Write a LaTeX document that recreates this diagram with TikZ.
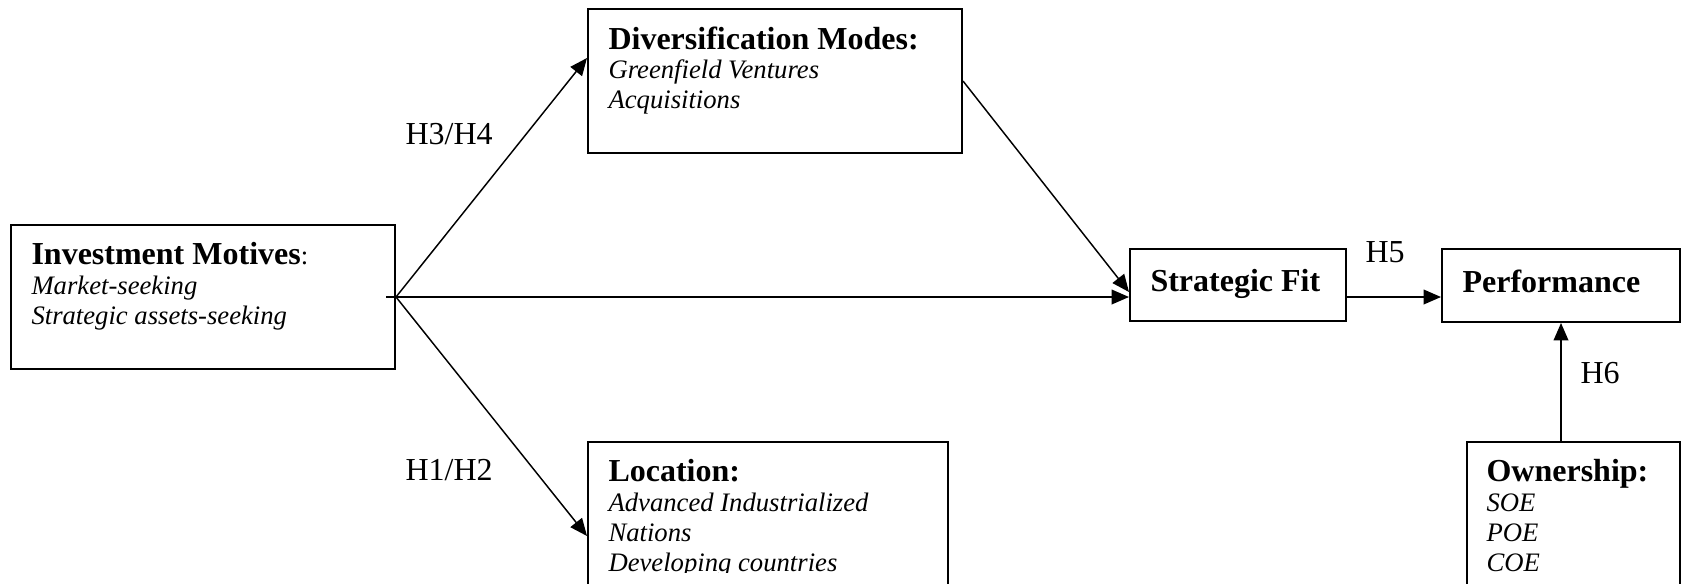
\documentclass[tikz,border=0pt]{standalone}
\usepackage{fontspec}
\setmainfont{Liberation Serif}
\usetikzlibrary{arrows.meta,calc,positioning}
\def\px{0.375pt}
\tikzset{
    box/.style={draw, line width=0.75pt, inner sep=0pt, anchor=north west},
    boxtext/.style={anchor=north west, inner sep=0pt, align=left,
        font=\fontsize{10}{11.2}\selectfont},
    link/.style={line width=0.55pt, -{Triangle[length=6.5pt,width=5.5pt]}},
    hyp/.style={anchor=base west, inner sep=0pt, font=\fontsize{12}{14}\selectfont}
}
\newcommand{\ttl}[1]{{\fontsize{12}{11.2}\selectfont\bfseries #1}}

\begin{document}
\begin{tikzpicture}[x=\px, y=-\px]
    \useasboundingbox (0,0) rectangle (1681,583);
    \clip (0,0) rectangle (1681,583);

    % Boxes.
    \node[box, minimum width=384*\px, minimum height=144*\px] (inv) at (10,224) {};
    \node[box, minimum width=374*\px, minimum height=144*\px] (div) at (587,8) {};
    \node[box, minimum width=360*\px, minimum height=180*\px] (loc) at (587,441) {};
    \node[box, minimum width=216*\px, minimum height=72*\px] (fit) at (1129,248) {};
    \node[box, minimum width=238*\px, minimum height=73*\px] (perf) at (1441,248) {};
    \node[box, minimum width=213*\px, minimum height=180*\px] (own) at (1466,441) {};

    % Box texts.
    \node[boxtext] (invtxt) at ($(inv.north west)+(21,18)$)
        {\ttl{Investment Motives}:\\ \itshape Market-seeking\\ \itshape Strategic assets-seeking};
    \node[boxtext] (divtxt) at ($(div.north west)+(21,18)$)
        {\ttl{Diversification Modes:}\\ \itshape Greenfield Ventures\\ \itshape Acquisitions};
    \begin{scope}
        \clip (0,0) rectangle (1681,572);
        \node[boxtext] (loctxt) at ($(loc.north west)+(21,18)$)
            {\ttl{Location:}\\ \itshape Advanced Industrialized\\ \itshape Nations\\ \itshape Developing countries};
    \end{scope}
    \node[boxtext] (fittxt) at ($(fit.north west)+(21,21)$) {\ttl{Strategic Fit}};
    \node[boxtext] (perftxt) at ($(perf.north west)+(21,21)$) {\ttl{Performance}};
    \node[boxtext] (owntxt) at ($(own.north west)+(20,18)$)
        {\ttl{Ownership:}\\ \itshape SOE\\ \itshape POE\\ \itshape COE};

    % Connectors.
    \draw[link] (inv.east) -- ($(div.north west)+(0,50)$);
    \draw[link] (inv.east) -- ($(loc.north west)+(0,95)$);
    \draw[link] ([xshift=-10*\px]inv.east) -- (inv.east -| fit.west);
    \draw[link] (div.east) -- ($(fit.north west)+(0,44)$);
    \draw[link] (inv.east -| fit.east) -- (inv.east -| perf.west);
    \draw[link] ($(own.north west)+(95,0)$) -- ($(perf.south west)+(120,0)$);

    % Hypotheses.
    \node[hyp] (h34) at (405,144) {H3/H4};
    \node[hyp] (h12) at (405,480) {H1/H2};
    \node[hyp] (h5) at (1365,262) {H5};
    \node[hyp] (h6) at (1580,383) {H6};
\end{tikzpicture}
\end{document}
